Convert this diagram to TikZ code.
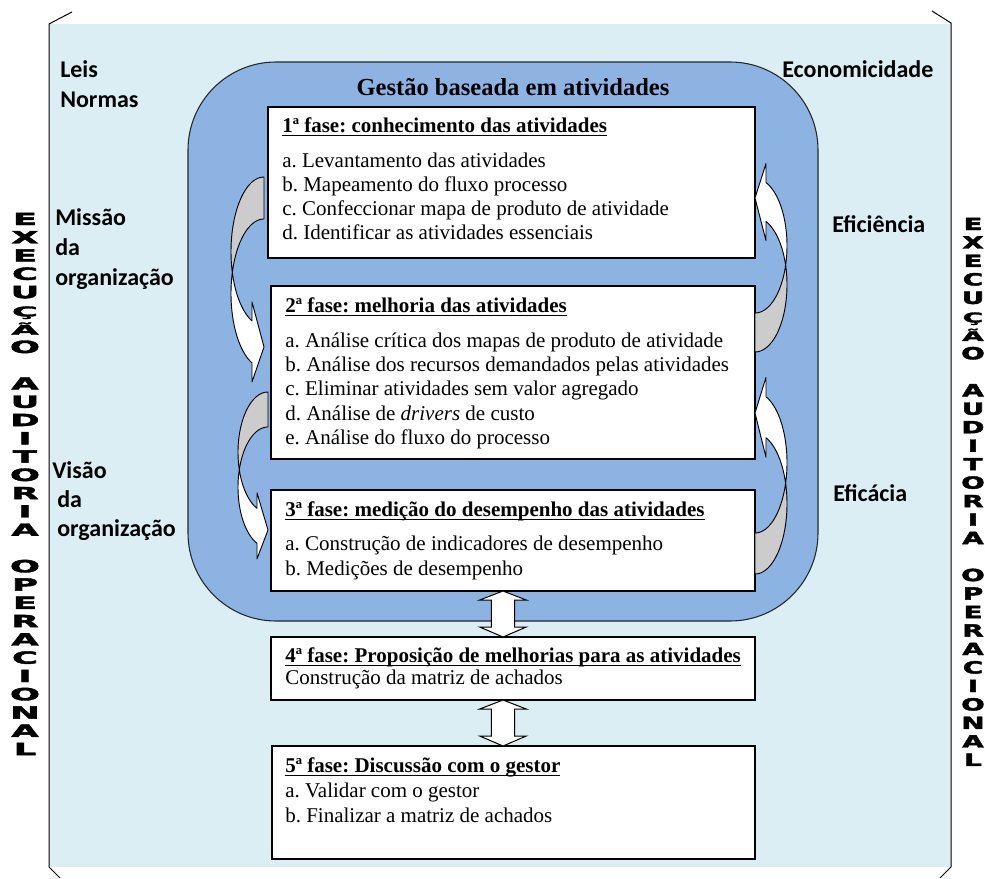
\documentclass[tikz,border=0pt]{standalone}
\usepackage{fontspec}
\setmainfont{Liberation Serif}
\newfontfamily\calib{Carlito}
\newfontfamily\vblack[BoldFeatures={FakeBold=2.2}]{DejaVu Sans}
\usetikzlibrary{calc}
\definecolor{bgout}{HTML}{DAEEF3}
\definecolor{bgin}{HTML}{8DB3E2}
\definecolor{arrgray}{HTML}{CCCCCC}
\frenchspacing
\newcommand\ulhead[1]{\setbox0\hbox{\bfseries #1}\rlap{\rule[-3.2pt]{\wd0}{1.05pt}}\box0}
\tikzset{
  carrow/.style={draw=black, line width=0.7pt, line join=round},
  pbox/.style={draw=black, line width=0.9pt, fill=white, rectangle, inner sep=0pt, outer sep=0pt, anchor=north west},
  txt/.style={anchor=base west, inner sep=0pt, font=\fontsize{15.75}{18}\selectfont},
  lab/.style={anchor=base west, inner sep=0pt, font=\calib\bfseries\fontsize{18}{22}\selectfont},
  vlet/.style={anchor=base, inner sep=0pt, font=\vblack\bfseries\fontsize{12.6}{12.6}\selectfont},
  dbl/.style={draw=black, line width=0.75pt, fill=white, line join=miter}
}
% #1 rotation, #2 x, #3 y, #4 h, #5 th, #6 aw, #7 ah, #8 w
\newcommand{\curvarrow}[8]{%
\begin{scope}[shift={(#2,#3)},rotate=#1]
\pgfmathsetmacro{\hR}{#4/2-(#5+#6)/4}%
\pgfmathsetmacro{\dY}{sqrt(#8*#8-#7*#7)*\hR/#8}%
\pgfmathsetmacro{\dH}{(#6-#5)/2}%
\pgfmathsetmacro{\phiE}{180-acos(#7/#8)}%
\pgfmathsetmacro{\gam}{asin(#5/(2*\hR))}%
\pgfmathsetmacro{\yF}{\hR+\dY-\dH}%
\pgfmathsetmacro{\yS}{#4-#6/2}%
\pgfmathsetmacro{\yE}{\hR+#5+\dY+\dH}%
\pgfmathsetmacro{\ySv}{\hR+#5+\dY}%
\pgfmathsetmacro{\gA}{180+\gam}%
\pgfmathsetmacro{\gB}{180-\gam}%
\filldraw[carrow, fill=arrgray] (0,#5) -- plot[variable=\phix, domain=270:\gA, samples=40] ({#8*cos(\phix)},{\hR+#5+\hR*sin(\phix)}) -- plot[variable=\phix, domain=\gB:270, samples=40] ({#8*cos(\phix)},{\hR+\hR*sin(\phix)}) -- cycle;
\filldraw[carrow, fill=white] plot[variable=\phix, domain=\gB:\phiE, samples=40] ({#8*cos(\phix)},{\hR+\hR*sin(\phix)}) -- (-#7,\yF) -- (0,\yS) -- (-#7,\yE) -- (-#7,\ySv) -- plot[variable=\phix, domain=\phiE:\gA, samples=40] ({#8*cos(\phix)},{\hR+#5+\hR*sin(\phix)}) -- cycle;
\end{scope}}
\begin{document}
\begin{tikzpicture}[x=0.75pt,y=-0.75pt]
\useasboundingbox (0,0) rectangle (985,878);
% outer background
\fill[bgout] (49,24) rectangle (951,867);
\draw[line width=0.75pt] (72,12) -- (49,24) -- (49,867) -- (60,878);
\draw[line width=0.75pt] (932,11) -- (951,23) -- (951,867) -- (940,878);
% inner rounded area
\filldraw[fill=bgin, draw=black!85, line width=0.8pt, rounded corners=66pt] (188,62) rectangle (818,621);
% boxes
\node[pbox, minimum width=365.25pt, minimum height=113.25pt] (b1) at (268,107) {};
\node[pbox, minimum width=363pt, minimum height=129.75pt] (b2) at (271,286) {};
\node[pbox, minimum width=363pt, minimum height=75.75pt] (b3) at (271,490) {};
\node[pbox, minimum width=363pt, minimum height=47.25pt] (b4) at (271,637) {};
\node[pbox, minimum width=362.25pt, minimum height=84.75pt] (b5) at (272,746) {};
% curved arrows
\curvarrow{0}{264}{177}{210}{42}{80}{12}{33}
\curvarrow{0}{268}{392}{171}{35}{66}{11}{30}
\curvarrow{180}{755}{352}{192.5}{39}{77}{11}{32}
\curvarrow{180}{755}{574}{201}{41}{80}{11}{32}
% double arrows
\coordinate (ax) at (503,0);
\draw[dbl] (ax |- b3.south) -- ++(23.3,9) -- ++(-11.7,0) -- ++(0,27) -- ++(11.7,0) -- (ax |- b4.north) -- ++(-23.3,-10) -- ++(11.7,0) -- ++(0,-27) -- ++(-11.7,0) -- cycle;
\draw[dbl] (ax |- b4.south) -- ++(23.3,9) -- ++(-11.7,0) -- ++(0,27) -- ++(11.7,0) -- (ax |- b5.north) -- ++(-23.3,-10) -- ++(11.7,0) -- ++(0,-27) -- ++(-11.7,0) -- cycle;
% title
\node[anchor=base, inner sep=0pt, font=\bfseries\fontsize{18.4}{22}\selectfont] (title) at (513,95) {Gestão baseada em atividades};
% box texts
\node[txt] (b1h) at (282,132) {\ulhead{1ª fase: conhecimento das atividades}};
\node[txt] (b1a) at (282,167) {a. Levantamento das atividades};
\node[txt] (b1b) at (282,191) {b. Mapeamento do fluxo processo};
\node[txt] (b1c) at (282,215) {c. Confeccionar mapa de produto de atividade};
\node[txt] (b1d) at (282,239) {d. Identificar as atividades essenciais};
\node[txt] (b2h) at (285,312) {\ulhead{2ª fase: melhoria das atividades}};
\node[txt] (b2a) at (285,347) {a. Análise crítica dos mapas de produto de atividade};
\node[txt] (b2b) at (285,371) {b. Análise dos recursos demandados pelas atividades};
\node[txt] (b2c) at (285,395) {c. Eliminar atividades sem valor agregado};
\node[txt] (b2d) at (285,420) {d. Análise de \textit{drivers} de custo};
\node[txt] (b2e) at (285,444) {e. Análise do fluxo do processo};
\node[txt] (b3h) at (285,516) {\ulhead{3ª fase: medição do desempenho das atividades}};
\node[txt] (b3a) at (285,550) {a. Construção de indicadores de desempenho};
\node[txt] (b3b) at (285,575) {b. Medições de desempenho};
\node[txt] (b4h) at (285,662) {\ulhead{4ª fase: Proposição de melhorias para as atividades}};
\node[txt] (b4a) at (285,684) {Construção da matriz de achados};
\node[txt] (b5h) at (285,772) {\ulhead{5ª fase: Discussão com o gestor}};
\node[txt] (b5a) at (285,797) {a. Validar com o gestor};
\node[txt] (b5b) at (285,822) {b. Finalizar a matriz de achados};
% side labels
\node[lab] (leis) at (60,77) {Leis};
\node[lab] (normas) at (60,107) {Normas};
\node[lab] (econ) at (782,77) {Economicidade};
\node[lab] (missao) at (55,225) {Missão};
\node[lab] (mda) at (55,255) {da};
\node[lab] (morg) at (55,285) {organização};
\node[lab] (visao) at (52,478) {Visão};
\node[lab] (vda) at (57,507) {da};
\node[lab] (vorg) at (57,536) {organização};
\node[lab] (efic) at (832,232) {Eficiência};
\node[lab] (eficacia) at (833,501) {Eficácia};
% vertical letters
\foreach \ch/\k/\sy in {E/0/1,X/1/1,E/2/1,C/3/1,U/4/1,Ç/5/0.8,Ã/6/0.78,O/7/1,A/9/1,U/10/1,D/11/1,I/12/1,T/13/1,O/14/1,R/15/1,I/16/1,A/17/1,O/19/1,P/20/1,E/21/1,R/22/1,A/23/1,C/24/1,I/25/1,O/26/1,N/27/1,A/28/1,L/29/1}{
  \node[vlet] (vl\k) at (25,225+\k*18.28) {\scalebox{2.1}[\sy]{\ch}};
  \node[vlet] (vr\k) at (973,230+\k*18.48) {\scalebox{1.65}[\sy]{\ch}};
}
\end{tikzpicture}
\end{document}
